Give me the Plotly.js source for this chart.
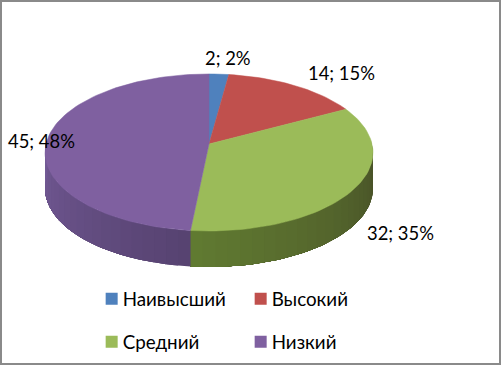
<!DOCTYPE html>
<html>
<head>
<meta charset="utf-8">
<script src="https://cdn.plot.ly/plotly-3.0.1.min.js"></script>
<style>html,body{margin:0;padding:0;background:#fff}#c{width:501px;height:365px}</style>
</head>
<body>
<div id="c"></div>
<script>
const categories = ["Наивысший", "Высокий", "Средний", "Низкий"];
const counts = [2, 14, 32, 45];
const percents = [2, 15, 35, 48];
const topColors = ["#4f81bd", "#c0504d", "#9bbb59", "#7f60a0"];
// wall shading per slice: [colour at the slice start, colour at the slice end]
const wallColors = [null, null, ["#474f27", "#607a31"], ["#574371", "#735a96"]];

// projection of the tilted disc
const CX = 209, CY = 144, RX = 163, RY = 77.6, K = 0.108, DEPTH = 36;
function project(deg, drop) {
  const t = deg * Math.PI / 180, u = Math.sin(t), v = Math.cos(t), w = 1 + K * v;
  return [CX + RX * u / w, CY + drop - RY * v / w];
}
function arc(a0, a1, drop) {
  const n = Math.max(2, Math.ceil(Math.abs(a1 - a0) / 2)), out = [];
  for (let i = 0; i <= n; i++) out.push(project(a0 + (a1 - a0) * i / n, drop));
  return out;
}
function mix(c0, c1, f) {
  const p = c => [1, 3, 5].map(i => parseInt(c.substr(i, 2), 16));
  const a = p(c0), b = p(c1);
  return "rgb(" + a.map((x, i) => Math.round(x + (b[i] - x) * f)).join(",") + ")";
}

const total = counts.reduce((a, b) => a + b, 0);
let acc = 0;
const slices = counts.map(v => { const s = acc / total * 360; acc += v; return [s, acc / total * 360]; });

const traces = [];
function poly(pts, color, w) {
  traces.push({
    type: "scatter", mode: "lines", x: pts.map(p => p[0]), y: pts.map(p => p[1]),
    fill: "toself", fillcolor: color, line: { color: color, width: w },
    hoverinfo: "skip", showlegend: false
  });
}
// visible side wall: each strip runs to the slice end, the next one paints over it, so no seams show
slices.forEach((s, i) => {
  if (!wallColors[i]) return;
  const a0 = Math.max(s[0], 88), a1 = Math.min(s[1], 272);
  if (a1 <= a0) return;
  const steps = Math.ceil((a1 - a0) / 4);
  for (let k = 0; k < steps; k++) {
    const b0 = a0 + (a1 - a0) * k / steps;
    poly(arc(b0, a1, 0).concat(arc(a1, b0, DEPTH)), mix(wallColors[i][0], wallColors[i][1], k / (steps - 1)), 0);
  }
});
// top faces
slices.forEach((s, i) => poly([[CX, CY]].concat(arc(s[0], s[1], 0), [[CX, CY]]), topColors[i], 0.5));

// legend entries
categories.forEach((name, i) => traces.push({
  type: "scatter", mode: "markers", x: [null], y: [null], name: name,
  marker: { symbol: "square", size: 12, color: topColors[i] },
  legend: i < 2 ? "legend" : "legend2", hoverinfo: "skip", showlegend: true
}));

const labelAnchors = [[228, 58], [341, 73], [400, 233], [41, 141]];
const annotations = counts.map((v, i) => ({
  xref: "x", yref: "y", x: labelAnchors[i][0], y: labelAnchors[i][1],
  text: v + "; " + percents[i] + "%", showarrow: false, xanchor: "center", yanchor: "middle",
  font: { family: "Lato, 'Noto Sans', sans-serif", size: 18.4, color: "#000" }
}));

const legendBase = {
  orientation: "h", xref: "paper", yref: "paper", xanchor: "left", yanchor: "middle",
  bgcolor: "rgba(0,0,0,0)", entrywidth: 104, entrywidthmode: "pixels", itemwidth: 30,
  itemclick: false, itemdoubleclick: false,
  font: { family: "Lato, 'Noto Sans', sans-serif", size: 18.8, color: "#000" }
};
const layout = {
  width: 501, height: 365,
  margin: { l: 0, r: 0, t: 0, b: 0 },
  paper_bgcolor: "#fff", plot_bgcolor: "#fff",
  xaxis: { range: [0, 501], visible: false, fixedrange: true },
  yaxis: { range: [365, 0], visible: false, fixedrange: true },
  annotations: annotations,
  legend: Object.assign({}, legendBase, { x: 0.165, y: 1 - 299 / 365 }),
  legend2: Object.assign({}, legendBase, { x: 0.165, y: 1 - 342 / 365 }),
  shapes: [{
    type: "rect", xref: "paper", yref: "paper", x0: 0.002, x1: 0.998, y0: 0.003, y1: 0.997,
    line: { color: "#8a8a8a", width: 2 }, fillcolor: "rgba(0,0,0,0)"
  }]
};
Plotly.newPlot("c", traces, layout, { displayModeBar: false, staticPlot: true }).then(() => {
  // bring the legend swatches closer to their labels, as in the reference
  document.querySelectorAll(".legendsymbols").forEach(g => g.setAttribute("transform", "translate(9,0)"));
});
</script>
</body>
</html>
